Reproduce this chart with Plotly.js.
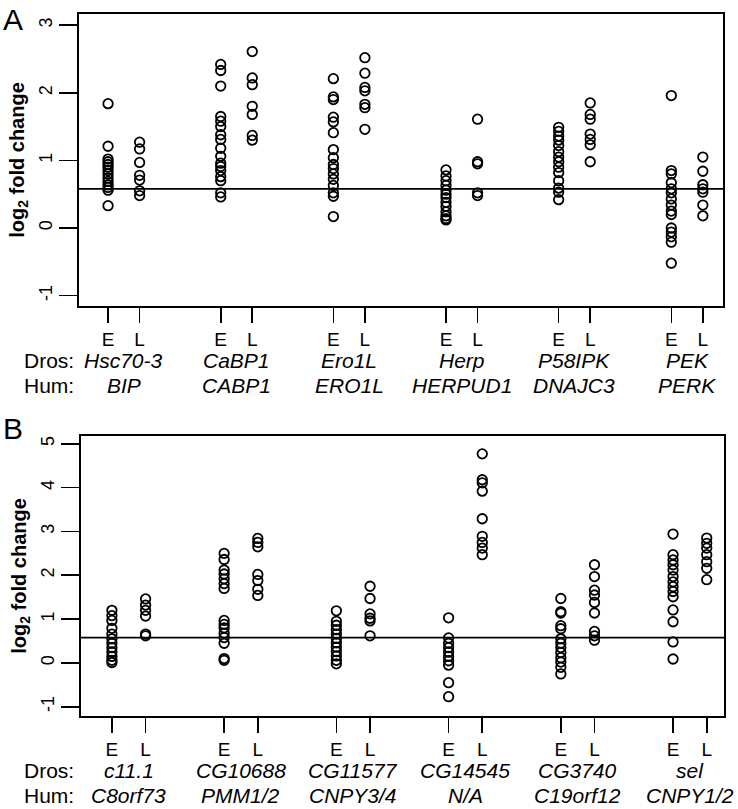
<!DOCTYPE html>
<html>
<head>
<meta charset="utf-8">
<script src="https://cdn.plot.ly/plotly-3.0.1.min.js"></script>
<style>html,body{margin:0;padding:0;background:#fff;}#chart{width:738px;height:809px;}</style>
</head>
<body>
<div id="chart"></div>
<script>
// ---------- Panel A data ----------
const dros_A = ['Hsc70-3', 'CaBP1', 'Ero1L', 'Herp', 'P58IPK', 'PEK'];
const hum_A  = ['BIP', 'CABP1', 'ERO1L', 'HERPUD1', 'DNAJC3', 'PERK'];
const hsc70_3_E = [1.84, 1.21, 1.02, 0.98, 0.94, 0.90, 0.85, 0.80, 0.74, 0.69, 0.64, 0.60, 0.56, 0.33];
const hsc70_3_L = [1.27, 1.17, 0.97, 0.78, 0.71, 0.55, 0.48];
const cabp1_E = [2.42, 2.33, 2.10, 1.65, 1.58, 1.50, 1.38, 1.31, 1.18, 1.06, 0.96, 0.91, 0.85, 0.76, 0.70, 0.52, 0.46];
const cabp1_L = [2.61, 2.22, 2.12, 1.80, 1.68, 1.37, 1.30];
const ero1l_E = [2.21, 1.94, 1.90, 1.64, 1.57, 1.41, 1.16, 1.04, 0.94, 0.88, 0.80, 0.72, 0.63, 0.52, 0.47, 0.17];
const ero1l_L = [2.52, 2.29, 2.08, 2.03, 1.83, 1.78, 1.46];
const herp_E = [0.86, 0.77, 0.70, 0.63, 0.56, 0.50, 0.45, 0.38, 0.32, 0.24, 0.18, 0.14, 0.12];
const herp_L = [1.61, 0.98, 0.95, 0.52, 0.48];
const p58ipk_E = [1.49, 1.43, 1.36, 1.30, 1.22, 1.13, 1.05, 0.98, 0.90, 0.82, 0.70, 0.59, 0.53, 0.42];
const p58ipk_L = [1.85, 1.68, 1.61, 1.39, 1.31, 1.23, 0.98];
const pek_E = [1.96, 0.85, 0.80, 0.67, 0.58, 0.52, 0.43, 0.34, 0.25, 0.20, 0.00, -0.06, -0.13, -0.21, -0.52];
const pek_L = [1.05, 0.84, 0.64, 0.58, 0.53, 0.34, 0.18];

// ---------- Panel B data ----------
const dros_B = ['c11.1', 'CG10688', 'CG11577', 'CG14545', 'CG3740', 'sel'];
const hum_B  = ['C8orf73', 'PMM1/2', 'CNPY3/4', 'N/A', 'C19orf12', 'CNPY1/2'];
const c11_1_E = [1.20, 1.08, 0.97, 0.79, 0.66, 0.55, 0.45, 0.35, 0.25, 0.15, 0.06, 0.01];
const c11_1_L = [1.46, 1.32, 1.20, 1.07, 0.66, 0.62];
const cg10688_E = [2.50, 2.36, 2.12, 2.03, 1.92, 1.81, 1.70, 0.97, 0.88, 0.80, 0.68, 0.58, 0.45, 0.10, 0.06];
const cg10688_L = [2.84, 2.75, 2.65, 2.02, 1.88, 1.68, 1.54];
const cg11577_E = [1.19, 0.95, 0.86, 0.76, 0.66, 0.56, 0.46, 0.36, 0.26, 0.16, 0.06, -0.02];
const cg11577_L = [1.75, 1.47, 1.12, 1.02, 0.96, 0.62];
const cg14545_E = [1.03, 0.57, 0.45, 0.35, 0.25, 0.15, 0.05, -0.05, -0.45, -0.77];
const cg14545_L = [4.77, 4.18, 4.11, 3.92, 3.29, 2.89, 2.75, 2.62, 2.47];
const cg3740_E = [1.47, 1.17, 1.14, 0.85, 0.78, 0.55, 0.45, 0.35, 0.24, 0.12, 0.02, -0.10, -0.25];
const cg3740_L = [2.24, 1.97, 1.66, 1.55, 1.38, 1.14, 0.72, 0.62, 0.52];
const sel_E = [2.94, 2.47, 2.35, 2.24, 2.12, 1.97, 1.85, 1.74, 1.63, 1.51, 1.21, 0.94, 0.48, 0.09];
const sel_L = [2.85, 2.73, 2.62, 2.47, 2.31, 2.16, 1.90];

const stages = ['E', 'L'];
const threshold = 0.58;   // reference line (log2 1.5)

const seriesA = [[hsc70_3_E, hsc70_3_L], [cabp1_E, cabp1_L], [ero1l_E, ero1l_L],
                 [herp_E, herp_L], [p58ipk_E, p58ipk_L], [pek_E, pek_L]];
const seriesB = [[c11_1_E, c11_1_L], [cg10688_E, cg10688_L], [cg11577_E, cg11577_L],
                 [cg14545_E, cg14545_L], [cg3740_E, cg3740_L], [sel_E, sel_L]];

const FONT = 'Liberation Sans, Arial, Helvetica, sans-serif';
const offA = 0.28, offB = 0.30;

const traces = [];
function addPanel(series, names, off, xa, ya) {
  series.forEach((pair, gi) => {
    pair.forEach((vals, si) => {
      const xp = gi + 1 + si * off;
      traces.push({
        type: 'scatter', mode: 'markers', xaxis: xa, yaxis: ya,
        x: vals.map(() => xp), y: vals,
        name: names[gi] + ' ' + stages[si],
        showlegend: false, hoverinfo: 'y+name',
        marker: {symbol: 'circle-open', size: 9.5, color: '#000', line: {width: 1.8, color: '#000'}}
      });
    });
  });
}
addPanel(seriesA, dros_A, offA, 'x', 'y');
addPanel(seriesB, dros_B, offB, 'x2', 'y2');

function tickPos(off) {
  const v = [], t = [];
  for (let i = 0; i < 6; i++) { v.push(i + 1, i + 1 + off); t.push(stages[0], stages[1]); }
  return {v, t};
}
const tA = tickPos(offA), tB = tickPos(offB);

const axBase = {
  showline: true, mirror: true, linecolor: '#000', linewidth: 2,
  showgrid: false, zeroline: false, ticks: 'outside', tickcolor: '#000', tickwidth: 1.6,
  fixedrange: true
};
const xBase = Object.assign({}, axBase, {ticklen: 15, tickfont: {family: FONT, size: 19, color: '#000'}, tickmode: 'array'});
const yBase = Object.assign({}, axBase, {ticklen: 18, tickangle: -90, tickmode: 'array',
  tickvals: [-1, 0, 1, 2, 3, 4, 5], ticktext: ['-1', '0', '1', '2', '3', '4', '5'],
  tickfont: {family: FONT, size: 18, color: '#000'},
  title: {text: 'log<sub>2</sub> fold change', font: {family: FONT, size: 20, color: '#000', weight: 'bold'}, standoff: 6}});

const domA = [0.584, 1], domB = [0, 0.399];
const annotations = [];
function addLabels(dros, hum, off, xref, ybase) {
  annotations.push({xref: 'paper', yref: 'paper', x: -0.089, y: ybase, yshift: -54, xanchor: 'left', yanchor: 'middle',
    text: 'Dros:', showarrow: false, font: {family: FONT, size: 21, color: '#000'}});
  annotations.push({xref: 'paper', yref: 'paper', x: -0.089, y: ybase, yshift: -79, xanchor: 'left', yanchor: 'middle',
    text: 'Hum:', showarrow: false, font: {family: FONT, size: 21, color: '#000'}});
  dros.forEach((d, i) => {
    const xm = i + 1 + off / 2;
    annotations.push({xref: xref, yref: 'paper', x: xm, y: ybase, yshift: -54, xanchor: 'center', yanchor: 'middle',
      text: '<i>' + d + '</i>', showarrow: false, font: {family: FONT, size: 21, color: '#000'}});
    annotations.push({xref: xref, yref: 'paper', x: xm, y: ybase, yshift: -79, xanchor: 'center', yanchor: 'middle',
      text: '<i>' + hum[i] + '</i>', showarrow: false, font: {family: FONT, size: 21, color: '#000'}});
  });
}
addLabels(dros_A, hum_A, offA, 'x', domA[0]);
addLabels(dros_B, hum_B, offB, 'x2', domB[0]);
annotations.push({xref: 'paper', yref: 'paper', x: -0.121, y: 0.992, xanchor: 'left', yanchor: 'middle',
  text: 'A', showarrow: false, font: {family: FONT, size: 30, color: '#000'}});
annotations.push({xref: 'paper', yref: 'paper', x: -0.121, y: 0.410, xanchor: 'left', yanchor: 'middle',
  text: 'B', showarrow: false, font: {family: FONT, size: 30, color: '#000'}});

const layout = {
  width: 738, height: 809,
  margin: {l: 79, r: 14, t: 14, b: 93},
  paper_bgcolor: '#fff', plot_bgcolor: '#fff',
  font: {family: FONT, color: '#000'},
  showlegend: false,
  xaxis: Object.assign({}, xBase, {domain: [0, 0.999], range: [0.742, 6.462], anchor: 'y', tickvals: tA.v, ticktext: tA.t}),
  yaxis: Object.assign({}, yBase, {domain: domA, range: [-1.154, 3.166], anchor: 'x'}),
  xaxis2: Object.assign({}, xBase, {domain: [0.003, 1], range: [0.724, 6.454], anchor: 'y2', tickvals: tB.v, ticktext: tB.t}),
  yaxis2: Object.assign({}, yBase, {domain: domB, range: [-1.21, 5.18], anchor: 'x2'}),
  shapes: [
    {type: 'line', xref: 'x domain', yref: 'y', x0: 0, x1: 1, y0: threshold, y1: threshold, line: {color: '#000', width: 1.8}},
    {type: 'line', xref: 'x2 domain', yref: 'y2', x0: 0, x1: 1, y0: threshold, y1: threshold, line: {color: '#000', width: 1.8}}
  ],
  annotations: annotations
};

Plotly.newPlot('chart', traces, layout, {displayModeBar: false, staticPlot: true});
</script>
</body>
</html>
